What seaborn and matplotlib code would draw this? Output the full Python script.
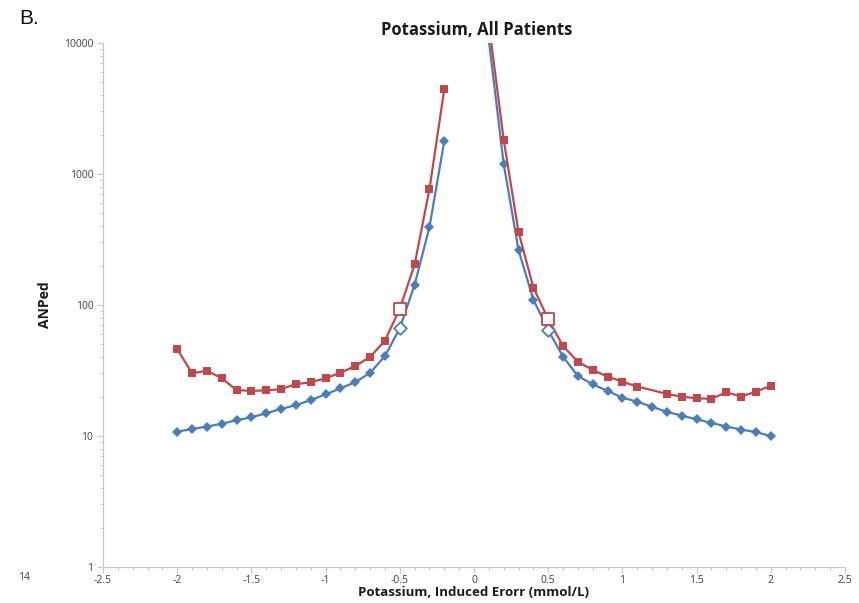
import matplotlib
matplotlib.use("Agg")
import matplotlib.pyplot as plt
import matplotlib.ticker as mticker
import seaborn as sns
import numpy as np

# ---- data ----
x_left = [-2.0, -1.9, -1.8, -1.7, -1.6, -1.5, -1.4, -1.3, -1.2, -1.1,
          -1.0, -0.9, -0.8, -0.7, -0.6, -0.5, -0.4, -0.3, -0.2]
blue_left = [10.8, 11.3, 11.8, 12.4, 13.2, 13.9, 14.9, 16.1, 17.2, 18.8,
             20.8, 23.1, 25.8, 30.3, 40.8, 66.5, 143, 394, 1790]
red_left = [46.2, 30.1, 31.5, 27.6, 22.4, 22.1, 22.3, 22.8, 24.9, 25.7,
            27.6, 30.4, 34.2, 40.1, 53.5, 93.5, 204, 768, 4450]

x_right = [0.1, 0.2, 0.3, 0.4, 0.5, 0.6, 0.7, 0.8, 0.9, 1.0,
           1.1, 1.2, 1.3, 1.4, 1.5, 1.6, 1.7, 1.8, 1.9, 2.0]
blue_right = [10500, 1194, 263, 110, 64.4, 40.3, 28.7, 24.8, 22.1, 19.6,
              18.3, 16.7, 15.3, 14.3, 13.4, 12.6, 11.8, 11.2, 10.7, 10.0]
red_right = [14000, 1830, 361, 136, 78, 48.6, 36.9, 31.9, 28.4, 26.0,
             23.8, 22.4, 20.9, 20.0, 19.4, 19.2, 21.6, 20.0, 21.8, 24.2]

x_ticks = [-2.5, -2, -1.5, -1, -0.5, 0, 0.5, 1, 1.5, 2, 2.5]
y_ticks = [1, 10, 100, 1000, 10000]

title = "Potassium, All Patients"
xlabel = "Potassium, Induced Erorr (mmol/L)"
ylabel = "ANPed"

BLUE = "#4A7EBB"
RED = "#C0474A"

sns.set_theme(style="white")
plt.rcParams["font.family"] = ["Open Sans", "DejaVu Sans"]

fig = plt.figure(figsize=(8.59, 6.03), dpi=100)
ax = fig.add_axes([103 / 859, 1 - 567 / 603, (845 - 103) / 859, (567 - 43) / 603])

def idx_except(n, skip):
    return [i for i in range(n) if i not in skip]

# left branch
sns.lineplot(x=x_left, y=blue_left, ax=ax, color=BLUE, lw=1.6, marker="D",
             markersize=5, markeredgewidth=0, markevery=idx_except(len(x_left), [15]),
             zorder=3)
sns.lineplot(x=x_left, y=red_left, ax=ax, color=RED, lw=1.6, marker="s",
             markersize=6, markeredgewidth=0, markevery=idx_except(len(x_left), [15]),
             zorder=3)
# right branch
sns.lineplot(x=x_right, y=blue_right, ax=ax, color=BLUE, lw=1.6, marker="D",
             markersize=5, markeredgewidth=0, markevery=idx_except(len(x_right), [0, 4]),
             zorder=3)
sns.lineplot(x=x_right, y=red_right, ax=ax, color=RED, lw=1.6, marker="s",
             markersize=6, markeredgewidth=0, markevery=idx_except(len(x_right), [0, 4, 11]),
             zorder=3)

# open markers at +/-0.5
sns.scatterplot(x=[x_left[15], x_right[4]], y=[blue_left[15], blue_right[4]], ax=ax,
                marker="D", s=42, facecolor="white", edgecolor=BLUE, linewidth=1.3, zorder=4)
sns.scatterplot(x=[x_left[15], x_right[4]], y=[red_left[15], red_right[4]], ax=ax,
                marker="s", s=70, facecolor="white", edgecolor=RED, linewidth=1.3, zorder=4)

ax.set_yscale("log")
ax.set_xlim(-2.5, 2.5)
ax.set_ylim(1, 10000)
ax.set_xticks(x_ticks)
ax.xaxis.set_major_formatter(mticker.FuncFormatter(lambda v, p: f"{v:g}"))
ax.xaxis.set_minor_locator(mticker.MultipleLocator(0.1))
ax.set_yticks(y_ticks)
ax.yaxis.set_major_formatter(mticker.FuncFormatter(lambda v, p: f"{v:g}"))
ax.yaxis.set_minor_locator(mticker.LogLocator(base=10, subs=np.arange(2, 10)))
ax.yaxis.set_minor_formatter(mticker.NullFormatter())

for s in ["top", "right"]:
    ax.spines[s].set_visible(False)
for s in ["left", "bottom"]:
    ax.spines[s].set_color("#C8C8C8")
    ax.spines[s].set_linewidth(0.9)

ax.tick_params(axis="both", which="both", direction="out", color="#C8C8C8",
               labelcolor="#404040", labelsize=7.5, width=0.8)
ax.tick_params(axis="both", which="major", length=4)
ax.tick_params(axis="x", which="major", pad=1.5)
ax.tick_params(axis="y", which="major", pad=3)
ax.tick_params(axis="both", which="minor", length=2.5)
ax.tick_params(axis="x", which="both", bottom=True)
ax.tick_params(axis="y", which="both", left=True)

ax.set_xlabel("")
ax.set_ylabel("")
fig.text(477 / 859, 1 - 30 / 603, title, ha="center", va="center",
         fontsize=12, fontweight="bold", color="#1a1a1a")
fig.text(474 / 859, 1 - 593 / 603, xlabel, ha="center", va="center",
         fontsize=9.5, fontweight="bold", color="#1a1a1a")
fig.text(45 / 859, 1 - 305 / 603, ylabel, ha="center", va="center", rotation=90,
         fontsize=10, fontweight="bold", color="#1a1a1a")

fig.text(19 / 859, 1 - 19 / 603, "B.", ha="left", va="center", fontsize=15,
         family=["Liberation Sans", "DejaVu Sans"], color="#111111")
fig.text(18 / 859, 1 - 578 / 603, "14", ha="left", va="center", fontsize=7.5,
         color="#404040")

fig.savefig("out.png", dpi=100, facecolor="white")
